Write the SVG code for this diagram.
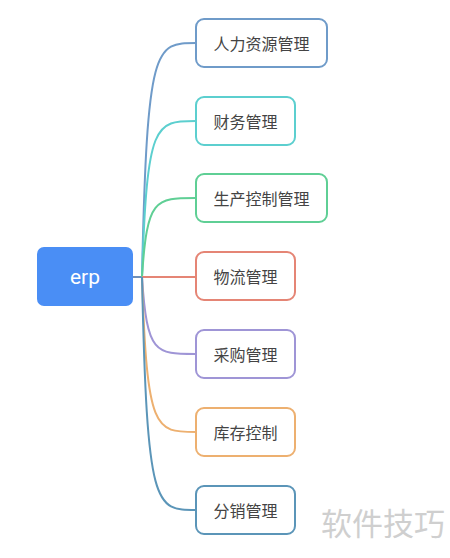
<svg xmlns="http://www.w3.org/2000/svg" width="450" height="558" viewBox="0 0 450 558">
<style>
.n rect{fill:#fff;stroke-width:2}
.n text{font-family:"Noto Sans CJK SC","Noto Sans",sans-serif;font-size:16px;fill:#444;text-anchor:middle;dominant-baseline:central}
#links path{fill:none;stroke-width:2}
</style>
<rect width="450" height="558" fill="#fff"/>
<g id="links">
<path d="M133,277 H142" stroke="#6f8fb8"/>
<path d="M142,277 C147,43 155,43 196,43" stroke="#6f9bc9"/>
<path d="M142,277 C147,121 155,121 196,121" stroke="#5ccfcf"/>
<path d="M142,277 C147,198 155,198 196,198" stroke="#5fcf95"/>
<path d="M142,277 H196" stroke="#e58575"/>
<path d="M142,277 C147,354 155,354 196,354" stroke="#9f95d6"/>
<path d="M142,277 C147,432 155,432 196,432" stroke="#edb070"/>
<path d="M142,277 C147,510 155,510 196,510" stroke="#5b95b8"/>
</g>
<g id="root">
<rect x="37" y="247" width="96" height="59" rx="7" fill="#4a8ef5"/>
<text x="85" y="277" font-family="Roboto,'Liberation Sans',sans-serif" font-size="21" fill="#fff" text-anchor="middle" dominant-baseline="central">erp</text>
</g>
<g id="n1" class="n"><rect x="196" y="19" width="131" height="48" rx="8" stroke="#6f9bc9"/><text x="261.5" y="43">人力资源管理</text></g>
<g id="n2" class="n"><rect x="196" y="97" width="99" height="48" rx="8" stroke="#5ccfcf"/><text x="245.5" y="121">财务管理</text></g>
<g id="n3" class="n"><rect x="196" y="174" width="131" height="48" rx="8" stroke="#5fcf95"/><text x="261.5" y="198">生产控制管理</text></g>
<g id="n4" class="n"><rect x="196" y="252" width="99" height="48" rx="8" stroke="#e58575"/><text x="245.5" y="276">物流管理</text></g>
<g id="n5" class="n"><rect x="196" y="330" width="99" height="48" rx="8" stroke="#9f95d6"/><text x="245.5" y="354">采购管理</text></g>
<g id="n6" class="n"><rect x="196" y="408" width="99" height="48" rx="8" stroke="#edb070"/><text x="245.5" y="432">库存控制</text></g>
<g id="n7" class="n"><rect x="196" y="486" width="99" height="48" rx="8" stroke="#5b95b8"/><text x="245.5" y="510">分销管理</text></g>
<text x="383" y="535" font-family="Noto Sans CJK SC,sans-serif" font-size="31" fill="#cfcfcf" text-anchor="middle">软件技巧</text>
</svg>
